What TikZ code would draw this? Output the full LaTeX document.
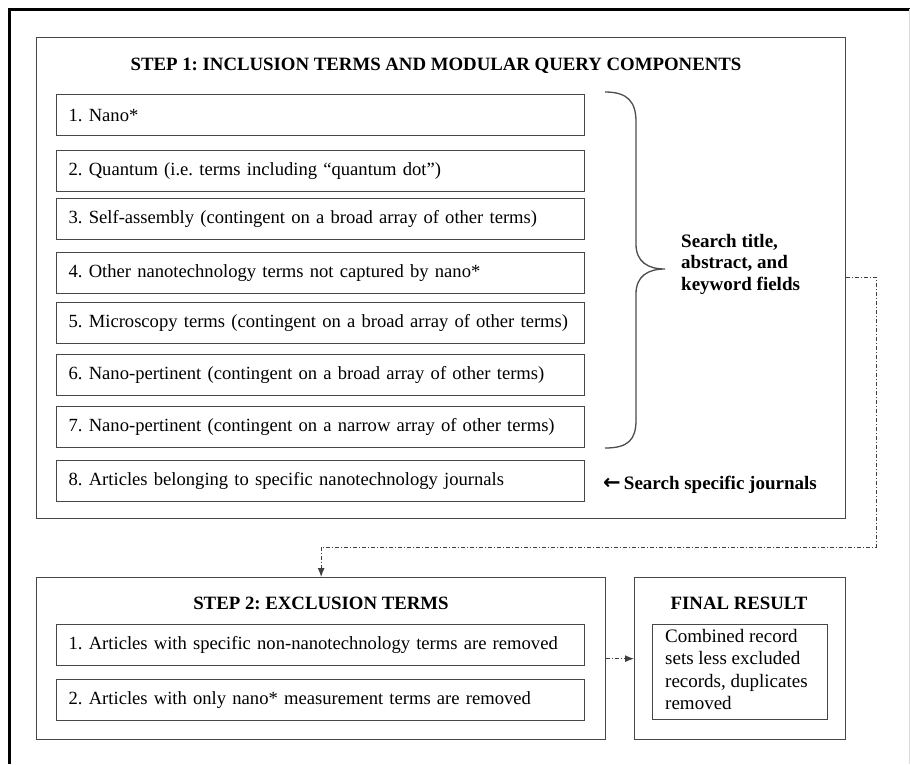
\documentclass[tikz,border=0pt]{standalone}
\usepackage{fontspec}
\setmainfont{Liberation Serif}
\newfontfamily\arrowfont{DejaVu Sans}
\usetikzlibrary{arrows.meta}
\frenchspacing
\begin{document}
\begin{tikzpicture}[x=1pt,y=-1pt,
  frame/.style={draw=black!72, line width=1.3pt, anchor=north west, inner sep=0pt},
  item/.style={draw=black!72, line width=1.3pt, anchor=north west, inner xsep=12pt, inner ysep=0pt,
    align=left, text width=504pt, minimum height=41pt, font=\fontsize{18.6}{22}\selectfont},
  ttl/.style={font=\bfseries\fontsize{18.8}{22}\selectfont, inner sep=0pt},
  lbl/.style={font=\bfseries\fontsize{19}{21.5}\selectfont, inner sep=0pt, align=left},
  flow/.style={draw=black!75, line width=1pt, dash pattern=on 4pt off 2pt on 1pt off 2pt,
    -{Latex[length=9pt,width=7pt]}}
]
\useasboundingbox (0,0) rectangle (910,764);
\fill[white] (0,0) rectangle (910,764);
% outer frame
\draw[line width=3pt] (9,764) -- (9,9) -- (910,9);
\draw[black!15, line width=1pt] (909,9) -- (909,764);

% STEP 1
\node[frame, minimum width=809pt, minimum height=481pt] (step1) at (36,37) {};
\node[ttl] (t1) at (436,66) {STEP 1: INCLUSION TERMS AND MODULAR QUERY COMPONENTS};
\node[item] (i1) at (56,94)  {1. Nano*};
\node[item] (i2) at (56,150) {2. Quantum (i.e. terms including “quantum dot”)};
\node[item] (i3) at (56,198) {3. Self-assembly (contingent on a broad array of other terms)};
\node[item] (i4) at (56,252) {4. Other nanotechnology terms not captured by nano*};
\node[item] (i5) at (56,302) {5. Microscopy terms (contingent on a broad array of other terms)};
\node[item] (i6) at (56,354) {6. Nano-pertinent (contingent on a broad array of other terms)};
\node[item] (i7) at (56,406) {7. Nano-pertinent (contingent on a narrow array of other terms)};
\node[item] (i8) at (56,460) {8. Articles belonging to specific nanotechnology journals};

% brace
\draw[black!70, line width=1.3pt] (605,92) .. controls (628,92) and (636,102) .. (636,122)
  -- (636,244) .. controls (636,262) and (648,269) .. (665,269)
  .. controls (648,269) and (636,276) .. (636,294)
  -- (636,420) .. controls (636,440) and (628,448) .. (605,448);
\node[lbl, anchor=west] (s1) at (681,264) {Search title,\\abstract, and\\keyword fields};
\node[lbl, anchor=west] (s2) at (603,485) {{\arrowfont\bfseries\fontsize{21}{20}\selectfont ←}\,Search specific journals};

% STEP 2
\node[frame, minimum width=569pt, minimum height=162pt] (step2) at (36,577) {};
\node[ttl] (t2) at (321,603) {STEP 2: EXCLUSION TERMS};
\node[item] (e1) at (56,624) {1. Articles with specific non-nanotechnology terms are removed};
\node[item] (e2) at (56,679) {2. Articles with only nano* measurement terms are removed};

% FINAL
\node[frame, minimum width=211pt, minimum height=162pt] (final) at (634,577) {};
\node[ttl] (t3) at (739,603) {FINAL RESULT};
\node[frame, minimum width=175pt, minimum height=95pt] (res) at (652,624) {};
\node[anchor=north west, inner sep=0pt, align=left, font=\fontsize{19}{22.5}\selectfont] (rt) at (665,629)
  {Combined record\\sets less excluded\\records, duplicates\\removed};

% connectors
\coordinate (c1) at (876,277);
\coordinate (c2) at (876,547);
\draw[flow] (step1.east |- c1) -- (c1) -- (c2) -- (step2.north |- c2) -- (step2.north);
\draw[flow] (step2.east) -- (final.west);
\end{tikzpicture}
\end{document}
